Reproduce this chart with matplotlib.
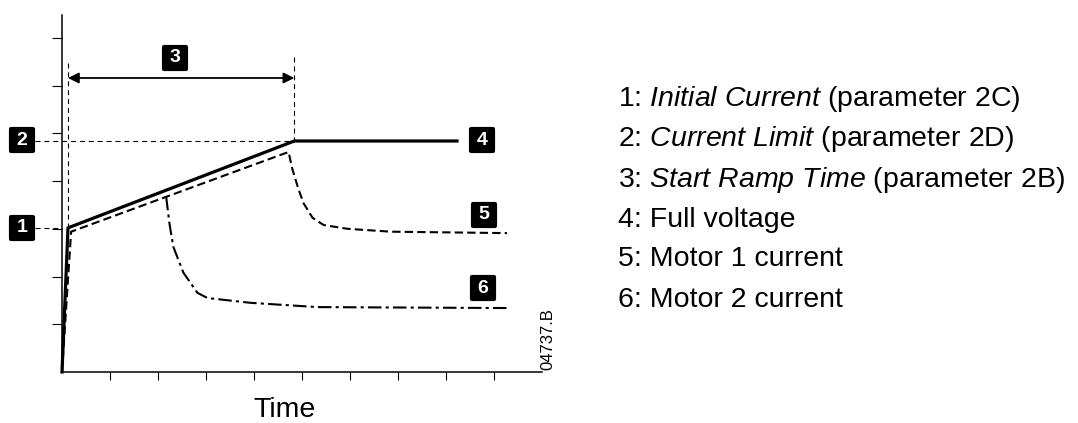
import matplotlib.pyplot as plt
from matplotlib.markers import MarkerStyle

plt.rcParams['font.family'] = ['Liberation Sans', 'DejaVu Sans']
plt.rcParams['mathtext.fontset'] = 'custom'
plt.rcParams['mathtext.rm'] = 'Liberation Sans'
plt.rcParams['mathtext.it'] = 'Liberation Sans:italic'

# Full voltage (4)
t_full = [0, 0.125, 4.84, 8.23]
v_full = [0, 3.02, 4.84, 4.84]

# Motor 1 current (5)
t_m1 = [0, 0.19, 2.17, 4.72, 4.80, 4.92, 5.03, 5.22, 5.45, 5.95, 6.85, 9.27]
i_m1 = [0, 2.94, 3.67, 4.61, 4.25, 3.85, 3.54, 3.23, 3.08, 3.0, 2.94, 2.91]

# Motor 2 current (6)
t_m2 = [2.17, 2.24, 2.32, 2.53, 2.82, 3.03, 3.92, 5.32, 9.27]
i_m2 = [3.67, 3.1, 2.62, 2.08, 1.66, 1.55, 1.45, 1.36, 1.34]

initial_current = 3.02
current_limit = 4.84
ramp_start = 0.125
ramp_end = 4.84

# numbered boxes: label, x, y
box_labels = ['1', '2', '3', '4', '5', '6']
box_x = [-0.83, -0.83, 2.35, 8.75, 8.79, 8.77]
box_y = [3.02, 4.86, 6.58, 4.86, 3.29, 1.76]

legend_lines = [
    r'1: $\mathit{Initial\ Current}$ (parameter 2C)',
    r'2: $\mathit{Current\ Limit}$ (parameter 2D)',
    r'3: $\mathit{Start\ Ramp\ Time}$ (parameter 2B)',
    '4: Full voltage',
    '5: Motor 1 current',
    '6: Motor 2 current',
]

fig = plt.figure(figsize=(10.78, 4.23), dpi=100)
ax = fig.add_axes([62 / 1078, 51 / 423, 480 / 1078, 357 / 423])
ax.set_xlim(0, 10)
ax.set_ylim(0, 7.48)
for s in ['top', 'right']:
    ax.spines[s].set_visible(False)
for s in ['left', 'bottom']:
    ax.spines[s].set_linewidth(1.1)
ax.set_xticks(range(1, 10))
ax.set_yticks(range(1, 8))
ax.set_xticklabels([])
ax.set_yticklabels([])
ax.tick_params(axis='x', direction='out', length=6, width=0.8)
ax.tick_params(axis='y', direction='out', length=7.5, width=0.8)

# reference dashed lines
ref = dict(color='black', lw=0.8, dashes=(4.5, 3.5), clip_on=False)
ax.plot([-0.56, 0], [initial_current, initial_current], **ref)
ax.plot([-0.56, ramp_end], [current_limit, current_limit], **ref)
ax.plot([ramp_start, ramp_start], [6.48, initial_current], **ref)
ax.plot([ramp_end, ramp_end], [6.6, current_limit], **ref)

# curves
ax.plot(t_full, v_full, color='black', lw=2.3, solid_joinstyle='miter', clip_on=False)
ax.plot(t_m1, i_m1, color='black', lw=1.5, dashes=(4, 2), clip_on=False)
ax.plot(t_m2, i_m2, color='black', lw=1.5, dashes=(6.5, 2, 1.5, 2), clip_on=False)

# ramp time arrow
ax.annotate('', xy=(ramp_end, 6.16), xytext=(ramp_start, 6.16),
            arrowprops=dict(arrowstyle='<|-|>', color='black', lw=1.3,
                            mutation_scale=16, shrinkA=0, shrinkB=0))

# numbered boxes
for lab, bx, by in zip(box_labels, box_x, box_y):
    ax.plot(bx, by, marker=MarkerStyle('s', joinstyle='round'), ms=15.5,
            mew=3, color='black', clip_on=False)
    ax.text(bx, by, lab, color='white', fontsize=14, fontweight='bold',
            ha='center', va='center', clip_on=False)

ax.text(4.625, -0.8, 'Time', fontsize=20.5, ha='center', va='center', clip_on=False)
ax.text(10.125, 0.04, '04737.B', fontsize=12, rotation=90,
        ha='center', va='bottom', clip_on=False)

for k, line in enumerate(legend_lines):
    fig.text(618 / 1078, 1 - (106.5 + 40 * k) / 423, line, fontsize=20.5,
             ha='left', va='baseline')

fig.savefig('out.png', dpi=100)
